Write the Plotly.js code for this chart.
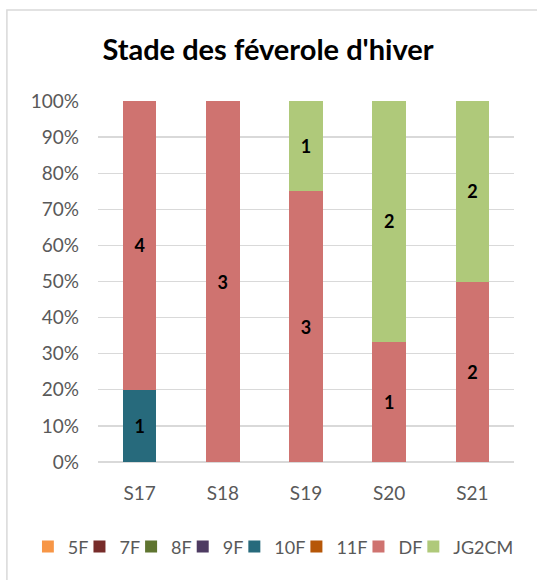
<!DOCTYPE html>
<html>
<head>
<meta charset="utf-8">
<script src="https://cdn.plot.ly/plotly-3.0.1.min.js"></script>
<style>html,body{margin:0;padding:0;background:#fff;}#chart{width:537px;height:580px;}</style>
</head>
<body>
<div id="chart"></div>
<script>
const categories = ['S17', 'S18', 'S19', 'S20', 'S21'];
const seriesNames = ['5F', '7F', '8F', '9F', '10F', '11F', 'DF', 'JG2CM'];
const v5F    = [0, 0, 0, 0, 0];
const v7F    = [0, 0, 0, 0, 0];
const v8F    = [0, 0, 0, 0, 0];
const v9F    = [0, 0, 0, 0, 0];
const v10F   = [1, 0, 0, 0, 0];
const v11F   = [0, 0, 0, 0, 0];
const vDF    = [4, 3, 3, 1, 2];
const vJG2CM = [0, 0, 1, 2, 2];
const seriesValues = [v5F, v7F, v8F, v9F, v10F, v11F, vDF, vJG2CM];
const seriesColors = ['#F79646', '#772C2A', '#5F7530', '#4D3B62', '#276A7C', '#B65708', '#CF7370', '#AFC97A'];
const yTicks = [0, 10, 20, 30, 40, 50, 60, 70, 80, 90, 100];
const yTickLabels = yTicks.map(v => v + '%');
const titleText = "Stade des féverole d'hiver";

const FONT = 'Lato, "Open Sans", sans-serif';

const traces = seriesNames.map((name, i) => ({
  type: 'bar',
  name: name,
  x: categories,
  y: seriesValues[i],
  text: seriesValues[i].map(v => v > 0 ? String(v) : ''),
  textposition: 'inside',
  insidetextanchor: 'middle',
  textangle: 0,
  constraintext: 'none',
  textfont: {family: FONT, size: 18, color: '#000000', weight: 'bold'},
  marker: {color: seriesColors[i], line: {width: 0}},
  hoverinfo: 'x+y+name'
}));

const layout = {
  width: 537,
  height: 580,
  barmode: 'stack',
  barnorm: 'percent',
  bargap: 0.595,
  paper_bgcolor: '#ffffff',
  plot_bgcolor: '#ffffff',
  margin: {l: 98, r: 23, t: 101, b: 118, autoexpand: false},
  title: {
    text: titleText,
    font: {family: FONT, size: 29, color: '#000000', weight: 'bold'},
    x: 268 / 537, xanchor: 'center', xref: 'container',
    y: 1 - 50 / 580, yanchor: 'middle', yref: 'container'
  },
  xaxis: {
    tickfont: {family: FONT, size: 19, color: '#595959'},
    showline: false,
    ticks: '',
    showgrid: false,
    tickangle: 0,
    ticklabelstandoff: 18
  },
  yaxis: {
    range: [0, 100],
    tickvals: yTicks,
    ticktext: yTickLabels,
    tickfont: {family: FONT, size: 19, color: '#595959'},
    showgrid: true,
    gridcolor: '#d9d9d9',
    gridwidth: 1.3,
    zeroline: true,
    zerolinecolor: '#d9d9d9',
    zerolinewidth: 1.3,
    ticks: '',
    showline: false,
    ticklabelstandoff: 18
  },
  showlegend: true,
  legend: {
    orientation: 'h',
    xref: 'paper',
    x: -0.135, xanchor: 'left',
    y: -0.235, yanchor: 'middle',
    font: {family: FONT, size: 18, color: '#595959'},
    traceorder: 'normal',
    itemwidth: 30,
    indentation: -14,
    bgcolor: 'rgba(0,0,0,0)'
  },
  shapes: [{
    type: 'rect', xref: 'paper', yref: 'paper',
    x0: -0.219, x1: 2, y0: -1, y1: 1.252,
    line: {color: '#d9d9d9', width: 1.5},
    fillcolor: 'rgba(0,0,0,0)',
    layer: 'below'
  }]
};

Plotly.newPlot('chart', traces, layout, {displayModeBar: false, staticPlot: true});
</script>
</body>
</html>
